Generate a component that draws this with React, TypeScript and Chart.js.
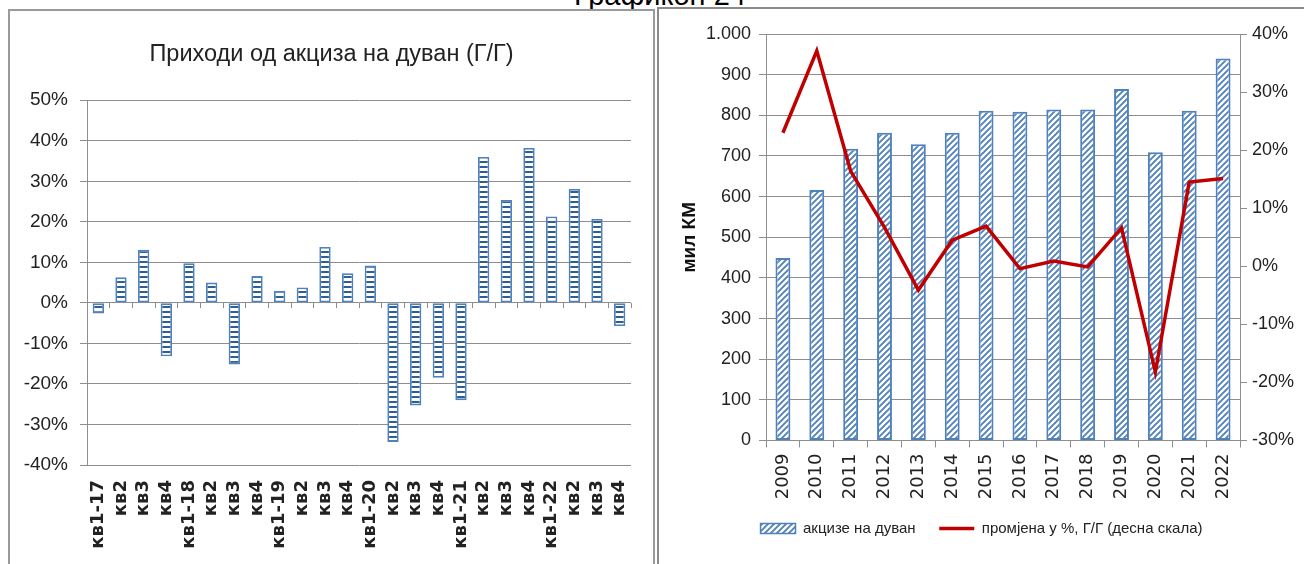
import React, { useEffect, useRef } from 'react';
import { Chart, registerables } from 'chart.js';

Chart.register(...registerables);

// ---------- data ----------
const pageHeading = 'Графикон 24';
const leftTitle = 'Приходи од акциза на дуван (Г/Г)';
const quarterLabels = [
  'кв1-17', 'кв2', 'кв3', 'кв4',
  'кв1-18', 'кв2', 'кв3', 'кв4',
  'кв1-19', 'кв2', 'кв3', 'кв4',
  'кв1-20', 'кв2', 'кв3', 'кв4',
  'кв1-21', 'кв2', 'кв3', 'кв4',
  'кв1-22', 'кв2', 'кв3', 'кв4',
];
const quarterlyGrowth = [
  -2.6, 6.3, 13.1, -13.2,
  9.8, 5.0, -15.2, 6.6,
  3.0, 3.8, 13.8, 7.3,
  9.2, -34.3, -25.3, -18.5,
  -24.0, 36.0, 25.4, 38.2,
  21.3, 28.1, 20.7, -5.7,
];
const leftTicksMin = -40;
const leftTicksMax = 50;

const years = ['2009', '2010', '2011', '2012', '2013', '2014', '2015', '2016', '2017', '2018', '2019', '2020', '2021', '2022'];
const exciseRevenue = [449, 616, 718, 757, 729, 757, 811, 809, 814, 814, 865, 709, 811, 940];
const yoyChange = [23.0, 37.1, 16.4, 6.7, -4.1, 4.5, 6.9, -0.4, 0.9, -0.1, 6.6, -18.2, 14.5, 15.1];
const barLabel = 'акцизе на дуван';
const lineLabel = 'промјена у %, Г/Г (десна скала)';
const leftAxisTitle = 'мил КМ';

// ---------- styles ----------
const FONT = '"Liberation Sans", Arial, sans-serif';
const WIDE = '"DejaVu Sans", Verdana, sans-serif';
const GRID = '#8e8e8e';
const TEXT = '#222222';
const BLUE = '#4f81bd';
const RED = '#c00000';

function makeStripePattern(): CanvasPattern | string {
  const c = document.createElement('canvas');
  c.width = 6;
  c.height = 5;
  const g = c.getContext('2d');
  if (!g) return BLUE;
  g.fillStyle = '#ffffff';
  g.fillRect(0, 0, 6, 5);
  g.fillStyle = '#2f5d96';
  g.fillRect(0, 0, 6, 2);
  return g.createPattern(c, 'repeat') || BLUE;
}

function makeHatchPattern(): CanvasPattern | string {
  const s = 6;
  const c = document.createElement('canvas');
  c.width = s;
  c.height = s;
  const g = c.getContext('2d');
  if (!g) return BLUE;
  g.fillStyle = '#ffffff';
  g.fillRect(0, 0, s, s);
  g.strokeStyle = BLUE;
  g.lineWidth = 1.9;
  g.beginPath();
  g.moveTo(-1, s + 1);
  g.lineTo(s + 1, -1);
  g.moveTo(-1, 1);
  g.lineTo(1, -1);
  g.moveTo(s - 1, s + 1);
  g.lineTo(s + 1, s - 1);
  g.stroke();
  return g.createPattern(c, 'repeat') || BLUE;
}

const thousands = (v: number) => String(v).replace(/\B(?=(\d{3})+(?!\d))/g, '.');

export default function App() {
  const leftRef = useRef<HTMLCanvasElement | null>(null);
  const rightRef = useRef<HTMLCanvasElement | null>(null);

  useEffect(() => {
    if (!leftRef.current || !rightRef.current) return;
    const stripe = makeStripePattern();
    const hatch = makeHatchPattern();

    const left = new Chart(leftRef.current, {
      type: 'bar',
      data: {
        labels: quarterLabels,
        datasets: [
          {
            data: quarterlyGrowth,
            backgroundColor: stripe as any,
            borderColor: BLUE,
            borderWidth: 1.8,
            borderSkipped: false,
            barPercentage: 0.5,
            categoryPercentage: 1,
          },
        ],
      },
      options: {
        responsive: false,
        animation: false,
        layout: { padding: 0 },
        plugins: {
          legend: { display: false },
          tooltip: { enabled: false },
          title: {
            display: true,
            text: leftTitle,
            color: TEXT,
            font: { family: FONT, size: 23.5, weight: 'normal' },
            padding: { top: 29, bottom: 32 },
          },
        },
        scales: {
          x: {
            grid: { display: false, drawTicks: true, tickLength: 12 },
            border: { display: false },
            ticks: {
              color: TEXT,
              font: { family: WIDE, size: 18, weight: 'bold' },
              maxRotation: 90,
              minRotation: 90,
              autoSkip: false,
              padding: 3,
            },
            afterFit: (s: any) => {
              s.height = 99;
            },
          },
          x0: {
            type: 'category',
            labels: quarterLabels,
            position: { y: 0 },
            offset: true,
            grid: { offset: true, drawOnChartArea: false, drawTicks: true, tickLength: 5, color: GRID },
            ticks: { display: false },
            border: { display: false },
          } as any,
          y: {
            min: leftTicksMin,
            max: leftTicksMax,
            ticks: {
              stepSize: 10,
              callback: (v: any) => v + '%',
              color: TEXT,
              font: { family: FONT, size: 19 },
              padding: 12,
            },
            grid: { color: GRID, tickLength: 7, lineWidth: 1 },
            border: { color: GRID },
            afterFit: (s: any) => {
              s.width = 77;
            },
          },
          ySpacer: {
            type: 'linear',
            position: 'right',
            display: true,
            ticks: { display: false },
            grid: { display: false, drawTicks: false },
            border: { display: false },
            afterFit: (s: any) => {
              s.width = 22;
            },
          } as any,
        },
      },
    });

    const right = new Chart(rightRef.current, {
      type: 'bar',
      data: {
        labels: years,
        datasets: [
          {
            type: 'bar',
            label: barLabel,
            data: exciseRevenue,
            backgroundColor: hatch as any,
            borderColor: BLUE,
            borderWidth: 2,
            borderSkipped: false,
            barPercentage: 0.44,
            categoryPercentage: 1,
            yAxisID: 'y',
            order: 2,
          },
          {
            type: 'line',
            label: lineLabel,
            data: yoyChange,
            borderColor: RED,
            backgroundColor: RED,
            borderWidth: 3.5,
            pointRadius: 0,
            tension: 0,
            yAxisID: 'y1',
            order: 1,
          } as any,
        ],
      },
      options: {
        responsive: false,
        animation: false,
        layout: { padding: { left: 0, right: 0, top: 25, bottom: 18 } },
        plugins: {
          tooltip: { enabled: false },
          legend: {
            position: 'bottom',
            labels: {
              usePointStyle: true,
              pointStyleWidth: 35,
              boxHeight: 10,
              padding: 19.5,
              color: TEXT,
              font: { family: FONT, size: 15 },
              generateLabels: () => [
                {
                  text: barLabel + ' ',
                  fillStyle: hatch as any,
                  strokeStyle: BLUE,
                  lineWidth: 1.5,
                  pointStyle: 'rect',
                  hidden: false,
                  datasetIndex: 0,
                  fontColor: TEXT,
                } as any,
                {
                  text: lineLabel,
                  fillStyle: RED,
                  strokeStyle: RED,
                  lineWidth: 3.5,
                  pointStyle: 'line',
                  hidden: false,
                  datasetIndex: 1,
                  fontColor: TEXT,
                } as any,
              ],
            },
          },
        },
        scales: {
          x: {
            grid: { display: true, drawOnChartArea: false, tickLength: 7, color: GRID, offset: true },
            border: { color: GRID },
            ticks: {
              color: TEXT,
              font: { family: WIDE, size: 18 },
              maxRotation: 90,
              minRotation: 90,
              autoSkip: false,
              padding: 6,
            },
            afterFit: (s: any) => {
              s.height = 61;
            },
          },
          y: {
            position: 'left',
            min: 0,
            max: 1000,
            ticks: {
              stepSize: 100,
              callback: (v: any) => thousands(Number(v)),
              color: TEXT,
              font: { family: FONT, size: 18 },
              padding: 8,
            },
            grid: { color: GRID, tickLength: 7 },
            border: { color: GRID },
            title: {
              display: true,
              text: leftAxisTitle,
              color: '#111111',
              font: { family: FONT, size: 19, weight: 'bold' },
              padding: { top: 19, bottom: 0 },
            },
            afterFit: (s: any) => {
              s.width = 107;
            },
          },
          y1: {
            position: 'right',
            min: -30,
            max: 40,
            ticks: {
              stepSize: 10,
              callback: (v: any) => v + '%',
              color: TEXT,
              font: { family: FONT, size: 18 },
              padding: 5,
            },
            grid: { drawOnChartArea: false, tickLength: 7, color: GRID },
            border: { color: GRID },
            afterFit: (s: any) => {
              s.width = 64;
            },
          },
        },
      },
    });

    return () => {
      left.destroy();
      right.destroy();
    };
  }, []);

  return (
    <div
      style={{
        position: 'fixed',
        left: 0,
        top: 0,
        width: 1304,
        height: 564,
        overflow: 'hidden',
        background: '#ffffff',
      }}
    >
      <div
        style={{
          position: 'absolute',
          left: 0,
          width: 1320,
          top: -19,
          textAlign: 'center',
          fontFamily: FONT,
          fontSize: 29,
          lineHeight: '29px',
          color: '#000',
          whiteSpace: 'nowrap',
        }}
      >
        {pageHeading}
      </div>
      <div
        style={{
          position: 'absolute',
          left: 8,
          top: 9,
          width: 647,
          height: 620,
          boxSizing: 'border-box',
          border: '2px solid #9a9a9a',
        }}
      />
      <div
        style={{
          position: 'absolute',
          left: 657,
          top: 7,
          width: 700,
          height: 620,
          boxSizing: 'border-box',
          border: '2px solid #8a8a8a',
        }}
      />
      <canvas
        ref={leftRef}
        width={643}
        height={553}
        style={{ position: 'absolute', left: 10, top: 11, width: 643, height: 553, display: 'block' }}
      />
      <canvas
        ref={rightRef}
        width={645}
        height={555}
        style={{ position: 'absolute', left: 659, top: 9, width: 645, height: 555, display: 'block' }}
      />
    </div>
  );
}
